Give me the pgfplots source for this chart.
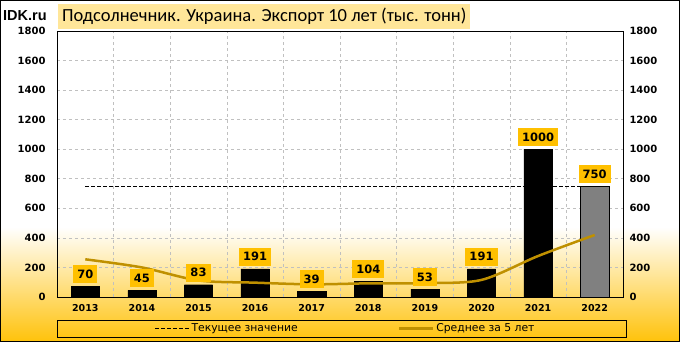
\documentclass[border=0pt]{standalone}
\usepackage{fontspec}
\setmainfont{Liberation Sans}
\newfontfamily\titlefont{Carlito}
\newfontfamily\dvs{DejaVu Sans}
\usepackage{pgfplots}
\pgfplotsset{compat=1.18}
\definecolor{gold}{HTML}{FFC000}
\definecolor{bgbot}{HTML}{FFC20A}
\definecolor{avgc}{HTML}{BF9000}
\definecolor{titlefill}{HTML}{FFE699}
\definecolor{bargray}{HTML}{808080}
\definecolor{gridc}{HTML}{C0C0C0}
\pgfplotsset{linelegend/.style={legend image code/.code={\draw[##1] (0pt,0pt) -- (34pt,0pt);}}}
\begin{document}
\begin{tikzpicture}
\useasboundingbox (0pt,0pt) rectangle (680pt,342pt);
\fill[white] (0pt,0pt) rectangle (680pt,342pt);
\shade[bottom color=bgbot, top color=white] (0pt,0pt) rectangle (680pt,115pt);
\draw[black, line width=1pt] (0.5pt,0.5pt) rectangle (679.5pt,341.5pt);
\draw[black, line width=0.8pt] (57pt,5pt) rectangle (626pt,22pt);
\node[anchor=base west, inner sep=0pt, font=\bfseries\fontsize{14.5}{16}\selectfont] at (3pt,321.3pt) {IDK.ru};
\node[anchor=north west, fill=titlefill, minimum height=25pt, inner xsep=4pt, font=\titlefont\fontsize{18.5}{20}\selectfont] at (58pt,338pt) {Подсолнечник. Украина. Экспорт 10 лет (тыс. тонн)};
\begin{axis}[
  at={(57pt,45pt)}, anchor=south west,
  scale only axis, width=566pt, height=266pt,
  xmin=-0.5, xmax=9.5, ymin=0, ymax=1800,
  xtick={0,1,2,3,4,5,6,7,8,9},
  xticklabels={2013,2014,2015,2016,2017,2018,2019,2020,2021,2022},
  minor xtick={0.5,1.5,2.5,3.5,4.5,5.5,6.5,7.5,8.5},
  ytick={0,200,400,600,800,1000,1200,1400,1600,1800},
  ymajorgrids, xminorgrids,
  grid style={dashed, color=gridc, line width=0.6pt},
  major tick length=0pt, minor tick length=0pt,
  yticklabel style={font=\dvs\bfseries\fontsize{10}{12}\selectfont, xshift=-8pt},
  xticklabel style={font=\dvs\bfseries\fontsize{9.5}{12}\selectfont, yshift=-4pt},
  /pgf/number format/assume math mode=true,
  /pgf/number format/1000 sep={},
  axis line style={line width=0.8pt},
  legend style={at={(axis description cs:0.51,-0.118)}, anchor=center, draw=none, fill=none,
    font=\dvs\fontsize{10.8}{12}\selectfont,
    /tikz/every even column/.append style={column sep=98pt}},
  legend columns=2, legend cell align=left,
]
\addplot[ybar, bar width=0.5, fill=black, draw=black, forget plot,
  nodes near coords,
  every node near coord/.append style={font=\dvs\bfseries\fontsize{11.5}{13}\selectfont, fill=gold, inner xsep=4pt, minimum height=18pt, anchor=south, yshift=3pt, text=black}]
  coordinates {(0,70) (1,45) (2,83) (3,191) (4,39) (5,104) (6,53) (7,191) (8,1000)};
\addplot[ybar, bar width=0.5, fill=bargray, draw=black, forget plot,
  nodes near coords,
  every node near coord/.append style={font=\dvs\bfseries\fontsize{11.5}{13}\selectfont, fill=gold, inner xsep=4pt, minimum height=18pt, anchor=south, yshift=3pt, text=black}]
  coordinates {(9,750)};
\addplot[black, line width=0.8pt, dash pattern=on 3.5pt off 2.5pt, linelegend]
  coordinates {(0,750) (9,750)};
\addlegendentry{Текущее значение}
\addplot[avgc, line width=2.5pt, smooth, linelegend]
  coordinates {(0,255) (1,200) (2,112) (3,97) (4,85.6) (5,92.4) (6,94) (7,115.6) (8,277.4) (9,419.6)};
\addlegendentry{Среднее за 5 лет}
\end{axis}
\begin{axis}[
  at={(57pt,45pt)}, anchor=south west,
  scale only axis, width=566pt, height=266pt,
  xmin=-0.5, xmax=9.5, ymin=0, ymax=1800,
  hide x axis, axis y line*=right,
  y axis line style={draw=none},
  ytick={0,200,400,600,800,1000,1200,1400,1600,1800},
  major tick length=0pt,
  yticklabel style={font=\dvs\bfseries\fontsize{10}{12}\selectfont, xshift=3pt},
  /pgf/number format/assume math mode=true,
  /pgf/number format/1000 sep={},
]
\addplot[draw=none] coordinates {(0,0) (9,0)};
\end{axis}
\end{tikzpicture}
\end{document}
